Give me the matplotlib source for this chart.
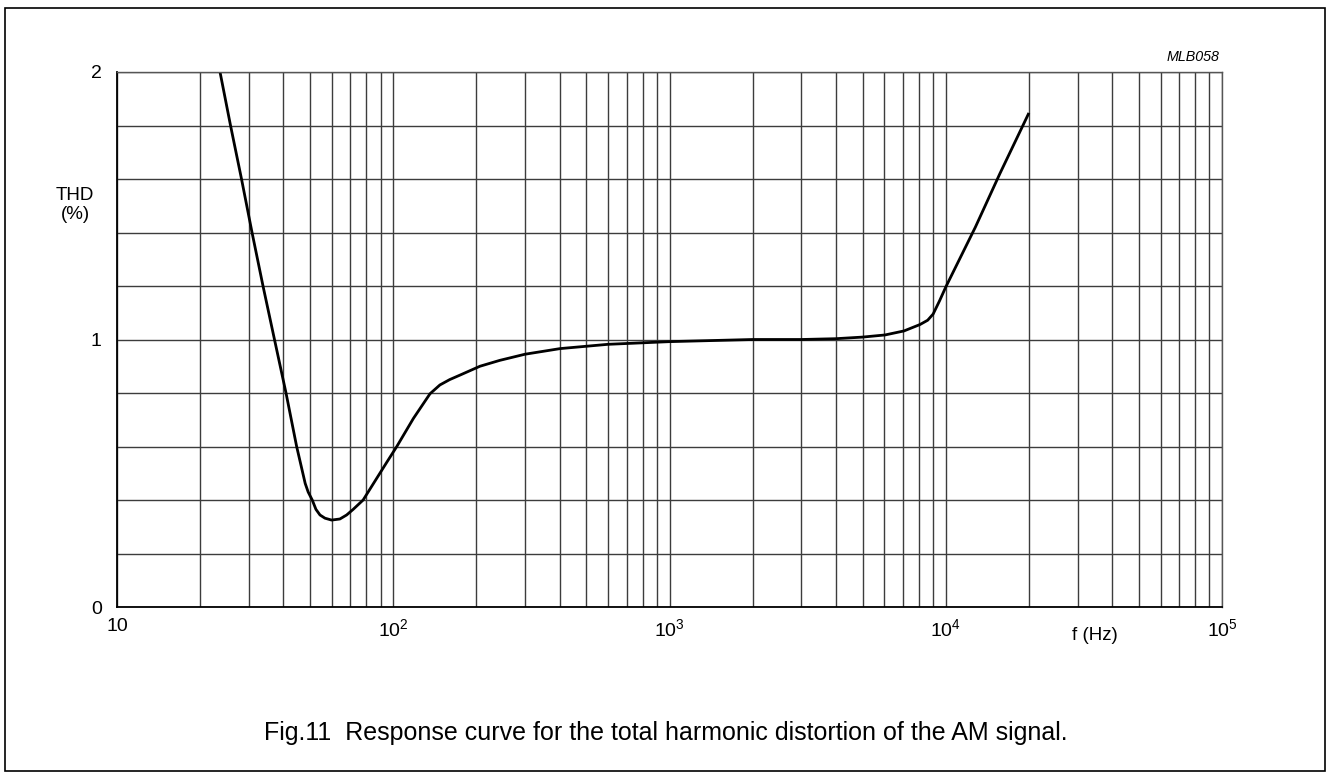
import numpy as np
import matplotlib
matplotlib.use('Agg')
import matplotlib.pyplot as plt
from matplotlib.ticker import FixedLocator, NullFormatter

plt.rcParams['font.family'] = ['Liberation Sans', 'DejaVu Sans']
plt.rcParams['mathtext.fontset'] = 'custom'
plt.rcParams['mathtext.rm'] = 'Liberation Sans'
plt.rcParams['mathtext.it'] = 'Liberation Sans:italic'

# THD curve
freq_hz = [23.6, 25.76, 28.23, 30.82, 33.77, 37.16, 40.91, 44.7, 48.0, 49.2, 50.9,
           52.5, 54.3, 56.6, 59.8, 64.1, 67.8, 71.6, 77.8, 84.6, 94.6, 103, 118.3,
           135.8, 147.5, 160, 174.5, 206, 243, 300, 402, 599, 1000, 2000,
           3000, 4000, 5000, 6030, 7060, 8070, 8600, 9000, 9500, 10000, 12800,
           15700, 20000]
thd_pct = [2.0, 1.8, 1.6, 1.4, 1.2, 1.0, 0.8, 0.6, 0.462, 0.43, 0.4,
           0.365, 0.344, 0.332, 0.325, 0.329, 0.344, 0.365, 0.4, 0.46, 0.54, 0.6, 0.705,
           0.797, 0.83, 0.85, 0.867, 0.9, 0.922, 0.945, 0.966, 0.982, 0.992, 1.0,
           1.0, 1.003, 1.009, 1.017, 1.032, 1.056, 1.072, 1.095, 1.145, 1.196, 1.42,
           1.62, 1.847]

x_major = [10, 100, 1000, 10000, 100000]
x_major_labels = ['10', '$10^{2}$', '$10^{3}$', '$10^{4}$', '$10^{5}$']
y_major = [0, 1, 2]
y_minor = [0.2, 0.4, 0.6, 0.8, 1.2, 1.4, 1.6, 1.8]

fig = plt.figure(figsize=(13.26, 7.73), dpi=100)
ax = fig.add_axes([117 / 1326, 1 - 607 / 773, 1105 / 1326, 535 / 773])

ax.set_xscale('log')
ax.set_xlim(10, 1e5)
ax.set_ylim(0, 2)

x_minor = [m * 10 ** d for d in range(1, 5) for m in range(2, 10)]
ax.xaxis.set_major_locator(FixedLocator(x_major))
ax.xaxis.set_minor_locator(FixedLocator(x_minor))
ax.xaxis.set_minor_formatter(NullFormatter())
ax.set_xticklabels(x_major_labels)
ax.yaxis.set_major_locator(FixedLocator(y_major))
ax.yaxis.set_minor_locator(FixedLocator(y_minor))
ax.set_yticklabels([str(v) for v in y_major])

ax.tick_params(which='both', length=0, labelsize=14)
ax.tick_params(axis='x', pad=8)
ax.tick_params(axis='y', pad=11)
ax.grid(True, which='both', color='#3c3c3c', linewidth=1.0)
ax.set_axisbelow(True)

for side in ['top', 'right']:
    ax.spines[side].set_color('#555555')
    ax.spines[side].set_linewidth(1.0)
for side in ['left', 'bottom']:
    ax.spines[side].set_color('black')
    ax.spines[side].set_linewidth(1.3)

ax.plot(freq_hz, thd_pct, color='black', linewidth=2.0,
        solid_joinstyle='round', solid_capstyle='butt')

fig.text(75 / 1326, 1 - 205 / 773, 'THD\n(%)', ha='center', va='center',
         fontsize=13.5, linespacing=1.2)
fig.text(1095 / 1326, 1 - 635 / 773, 'f (Hz)', ha='center', va='center', fontsize=13.5)
fig.text(1219 / 1326, 1 - 57 / 773, 'MLB058', ha='right', va='center',
         fontsize=10.3, style='italic')
fig.text(666 / 1326, 1 - 733 / 773,
         'Fig.11  Response curve for the total harmonic distortion of the AM signal.',
         ha='center', va='center', fontsize=18)

# outer frame
border = plt.Rectangle((5 / 1326, 1 - 771 / 773), 1320 / 1326, 763 / 773,
                       transform=fig.transFigure, fill=False,
                       edgecolor='black', linewidth=1.2)
fig.patches.append(border)

fig.savefig('out.png', dpi=100)
